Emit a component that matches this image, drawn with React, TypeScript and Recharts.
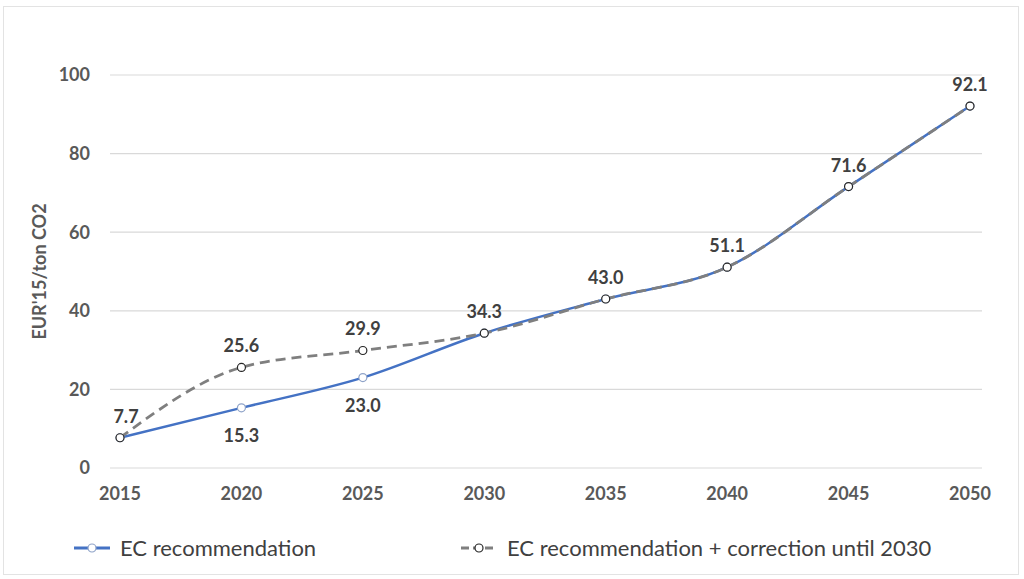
import React from 'react';
import { LineChart, Line, XAxis, YAxis, CartesianGrid, LabelList } from 'recharts';

const years = ['2015', '2020', '2025', '2030', '2035', '2040', '2045', '2050'];
const ecRecommendation = [7.7, 15.3, 23.0, 34.3, 43.0, 51.1, 71.6, 92.1];
const ecCorrected = [7.7, 25.6, 29.9, 34.3, 43.0, 51.1, 71.6, 92.1];
const yTicks = [0, 20, 40, 60, 80, 100];

const BLUE = '#4472C4';
const GREY = '#7F7F7F';
const TEXT = '#404040';
const FONT = 'Lato, "Open Sans", sans-serif';

const data = years.map((year, i) => ({
  year,
  ec: ecRecommendation[i],
  corrected: ecCorrected[i],
}));

// blue series only shows the labels where it departs from the corrected line
const BlueLabel = (props: any) => {
  const { x, y, value, index } = props;
  if (index !== 1 && index !== 2) return null;
  return (
    <text x={x} y={y + 27} textAnchor="middle" dominantBaseline="central"
      fontSize={18} fontWeight={700} fill={TEXT} fontFamily={FONT}>
      {value.toFixed(1)}
    </text>
  );
};

const GreyLabel = (props: any) => {
  const { x, y, value, index } = props;
  const dx = index === 0 ? 6 : 0;
  return (
    <text x={x + dx} y={y - 22} textAnchor="middle" dominantBaseline="central"
      fontSize={18} fontWeight={700} fill={TEXT} fontFamily={FONT}>
      {value.toFixed(1)}
    </text>
  );
};

const LegendItem = ({ color, dashed, markerStroke, label, left }: any) => (
  <div style={{ position: 'absolute', left, top: 534, display: 'flex', alignItems: 'center' }}>
    <svg width={38} height={24}>
      <line x1={1} y1={12} x2={37} y2={12} stroke={color} strokeWidth={3} strokeDasharray={dashed ? '8 4' : undefined} />
      <circle cx={19} cy={12} r={4} fill="#fff" stroke={markerStroke} strokeWidth={1.2} />
    </svg>
    <span style={{ marginLeft: 9, fontSize: 22, color: TEXT, fontFamily: FONT }}>{label}</span>
  </div>
);

export default function App() {
  return (
    <div style={{ position: 'absolute', left: 0, top: 0, width: 1024, height: 579, background: '#fff' }}>
      <div style={{ position: 'absolute', left: 3, top: 6, width: 1016, height: 569, border: '1px solid #e3e3e3', boxSizing: 'border-box' }} />
      <LineChart width={1024} height={579} data={data}
        margin={{ top: 75, right: 42, bottom: 81, left: 0 }}>
        <CartesianGrid vertical={false} stroke="#d9d9d9" strokeWidth={1.2} />
        <XAxis dataKey="year" axisLine={false} tickLine={false} padding={{ left: 10, right: 12 }}
          height={30} tickMargin={13}
          tick={{ fontSize: 18, fontWeight: 700, fill: '#595959', fontFamily: FONT }} />
        <YAxis domain={[0, 100]} ticks={yTicks} axisLine={false} tickLine={false} width={110}
          tickMargin={14}
          tick={{ fontSize: 18, fontWeight: 700, fill: '#595959', fontFamily: FONT }}
          label={{ value: "EUR'15/ton CO2", angle: -90, position: 'insideLeft', offset: 40,
            style: { fontSize: 18, fontWeight: 700, fill: '#595959', fontFamily: FONT, textAnchor: 'middle' } }} />
        <Line type="monotone" dataKey="ec" stroke={BLUE} strokeWidth={2.5}
          dot={{ r: 4, fill: '#fff', stroke: '#8FA3C8', strokeWidth: 1.2 }}
          isAnimationActive={false}>
          <LabelList dataKey="ec" content={BlueLabel} />
        </Line>
        <Line type="monotone" dataKey="corrected" stroke={GREY} strokeWidth={2.8} strokeDasharray="10 6"
          dot={{ r: 4, fill: '#fff', stroke: '#262626', strokeWidth: 1.2, strokeDasharray: '0' }}
          isAnimationActive={false}>
          <LabelList dataKey="corrected" content={GreyLabel} />
        </Line>
      </LineChart>
      <LegendItem color={BLUE} markerStroke="#8FA3C8" label="EC recommendation" left={73} />
      <LegendItem color={GREY} dashed markerStroke="#262626" label="EC recommendation + correction until 2030" left={460} />
    </div>
  );
}
